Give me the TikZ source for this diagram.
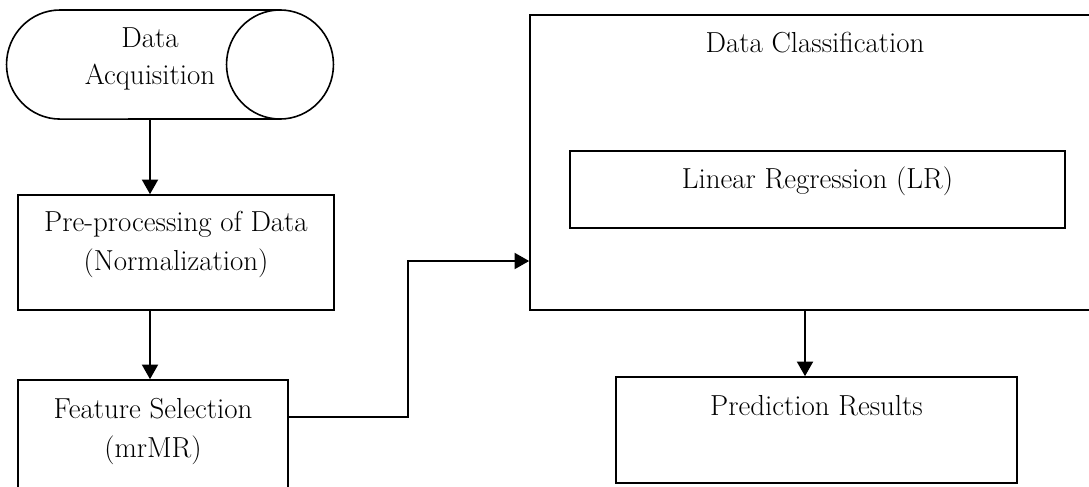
\documentclass[tikz,border=0pt]{standalone}
\usetikzlibrary{arrows.meta}
\begin{document}
\begin{tikzpicture}[x=0.75pt,y=-0.75pt,
  box/.style={draw,line width=1.2pt,inner sep=0pt,minimum width=#1},
  lbl/.style={inner sep=0pt,align=center,font=\fontsize{21.7pt}{29.5pt}\selectfont,anchor=base},
  arr/.style={line width=1.6pt,-{Triangle[length=11pt,width=12pt]}},
  ln/.style={line width=1.2pt}]
\useasboundingbox (0,0) rectangle (1089,486);
\clip (0,0) rectangle (1089,486);
% Data Acquisition (horizontal storage shape)
\node (da) [inner sep=0pt,minimum width=213pt,minimum height=81.75pt] at (150,64.5) {};
\draw[ln] (280,10) -- (60,10) arc[start angle=90,end angle=270,x radius=40.1pt,y radius=40.9pt] -- (280,119);
\draw[ln] (280,64.5) ellipse [x radius=40.1pt,y radius=40.9pt];
\node[lbl] at (150,47) {Data};
\node[lbl] at (150,84) {Acquisition};
% Pre-processing
\node (pre) [box=237pt,minimum height=86.25pt] at (176,252.5) {};
\node[lbl] at (176,231) {Pre-processing of Data};
\node[lbl] at (176,270) {(Normalization)};
% Feature selection
\node (fs) [box=202.5pt,minimum height=86.25pt] at (153,437.5) {};
\node[lbl] at (153,418) {Feature Selection};
\node[lbl] at (153,457) {(mrMR)};
% Data classification
\node (dc) [box=430.5pt,minimum height=221.25pt] at (817,162.5) {};
\node[lbl] at (815,52) {Data Classification};
\node (lr) [box=371.25pt,minimum height=57.75pt] at (817.5,189.5) {};
\node[lbl] at (817.5,188) {Linear Regression (LR)};
% Prediction results
\node (pr) [box=300.75pt,minimum height=79.5pt] at (816.5,430) {};
\node[lbl] at (816.5,415) {Prediction Results};
% connectors
\draw[arr] (da.south) -- (da.south |- pre.north);
\draw[arr] (pre.south -| da.south) -- (fs.north -| da.south);
\draw[arr] (fs.east |- 0,417) -- (408,417) -- (408,261) -- (dc.west |- 0,261);
\draw[arr] (dc.south -| 805,0) -- (pr.north -| 805,0);
\end{tikzpicture}
\end{document}
